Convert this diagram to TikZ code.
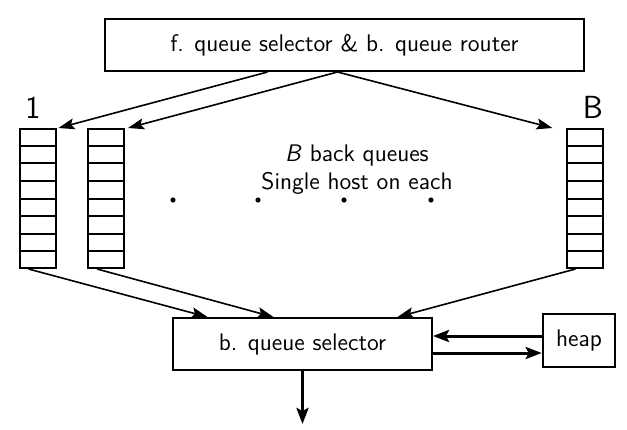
\documentclass[tikz,border=0pt]{standalone}
\usepackage{tikz}
\usetikzlibrary{arrows.meta, positioning, calc}

\begin{document}
\begin{tikzpicture}[
    x=0.5pt, y=-0.5pt,
    font=\sffamily\fontsize{12}{14}\selectfont,
    box/.style={rectangle, draw, line width=1pt, minimum width=#1,
                minimum height=26pt, inner sep=0pt},
    queue/.style={rectangle, draw, line width=1pt, minimum width=18pt,
                  minimum height=69.5pt, inner sep=0pt},
    qlabel/.style={anchor=base, font=\sffamily\fontsize{16}{18}\selectfont},
    link/.style={-{Stealth[length=8pt,width=5.5pt,inset=1.5pt]}, line width=0.8pt},
    thick link/.style={-{Stealth[length=8pt,width=6pt,inset=1.5pt]}, line width=1.5pt},
]
\useasboundingbox (0,0) rectangle (627,429);

% top router
\node[box=239.5pt] (router) at (344.5,45) {f. queue selector \& b. queue router};

% back queues
\node[queue] (q1) at (37.5,198.5) {};
\node[queue] (q2) at (106,198.5) {};
\node[queue] (qB) at (584.5,198.5) {};
\foreach \q in {q1,q2,qB}
  \foreach \i in {1,...,7}
    \draw[line width=1pt] ($(\q.north west)!\i/8!(\q.south west)$)
                       -- ($(\q.north east)!\i/8!(\q.south east)$);

\node[qlabel] (l1) at (33,118) {1};
\node[qlabel] (lB) at (593,118) {B};

\node[align=center] (info) at (357,170) {\textsl{B} back queues\\Single host on each};
\foreach \x in {173,258,344,431}
  \fill (\x,200) circle (1.3pt);

% selector and heap
\node[box=129.5pt] (sel) at (302.5,344) {b. queue selector};
\node[box=36pt, minimum height=26.5pt, line width=1.3pt] (heap) at (579,340.5) {heap};

\draw[link] ([xshift=-38.5pt]router.south) -- ([xshift=1pt]q1.north east);
\draw[link] ([xshift=-3.5pt]router.south) -- ([xshift=1.5pt]q2.north east);
\draw[link] ([xshift=-3.5pt]router.south) -- ([xshift=-6.5pt]qB.north west);

\draw[link] ([xshift=-4.5pt]q1.south) -- ([xshift=-47.5pt]sel.north);
\draw[link] ([xshift=-4.5pt]q2.south) -- ([xshift=-14.5pt]sel.north);
\draw[link] ([xshift=-4.5pt]qB.south) -- ([xshift=47.5pt]sel.north);

\draw[thick link] (heap.west |- 0,336) -- (sel.east |- 0,336);
\draw[thick link] (sel.east |- 0,353) -- (heap.west |- 0,353);
\coordinate (out) at (302.5,424);
\draw[thick link] (sel.south) -- (out);

\end{tikzpicture}
\end{document}
